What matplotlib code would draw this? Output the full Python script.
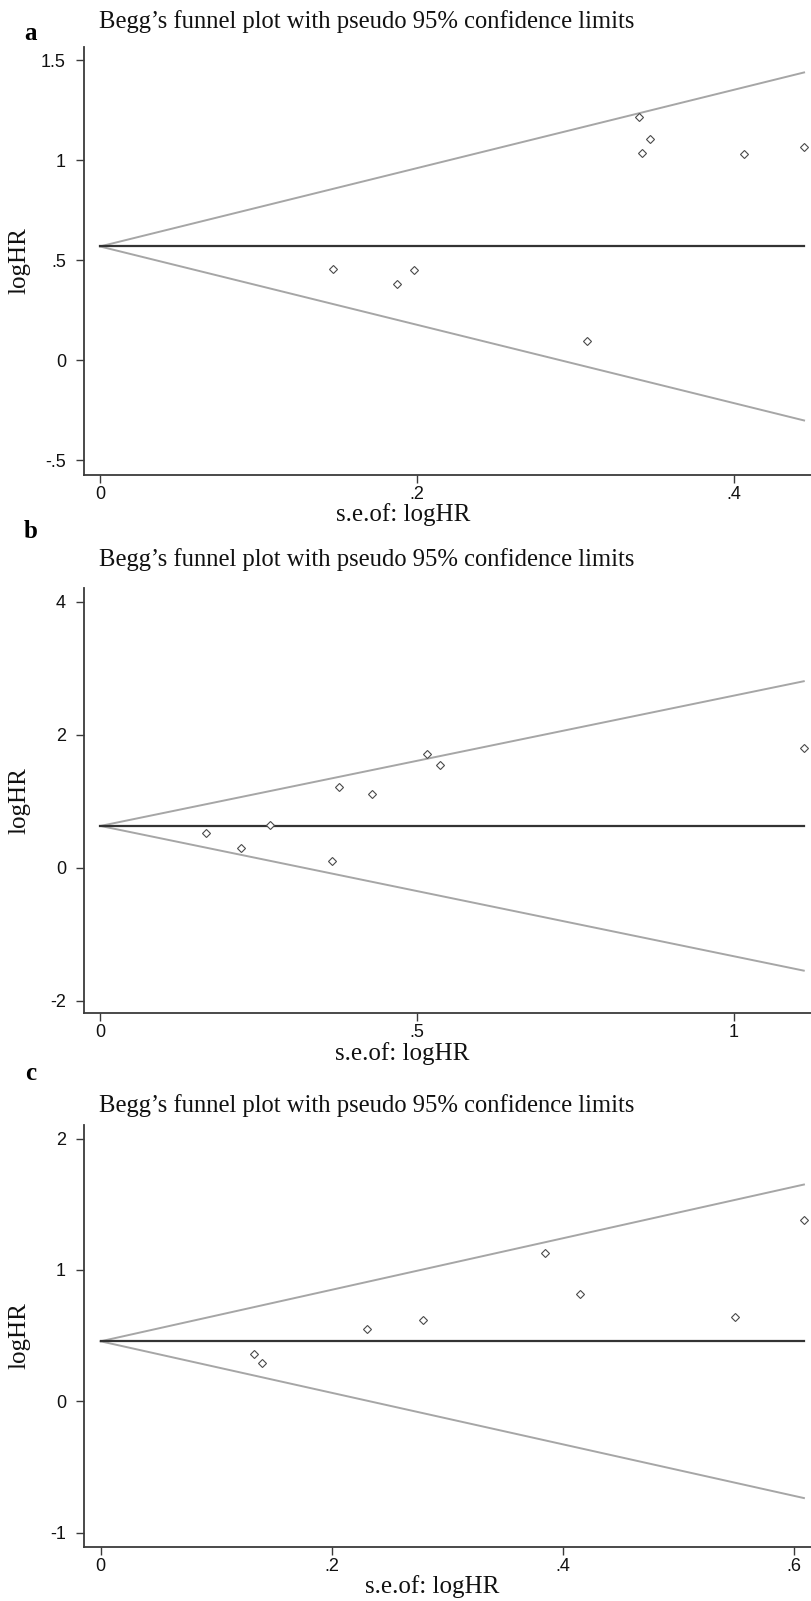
import matplotlib
matplotlib.use("Agg")
import matplotlib.pyplot as plt
import numpy as np
from matplotlib.ticker import FixedLocator, FixedFormatter

# ---------------- data ----------------
a_se = [0.147, 0.187, 0.198, 0.307, 0.340, 0.342, 0.347, 0.406, 0.444]
a_loghr = [0.455, 0.380, 0.450, 0.097, 1.213, 1.033, 1.103, 1.028, 1.067]
a_pooled = 0.568
a_xticks = [0, 0.2, 0.4]
a_xticklabels = ["0", ".2", ".4"]
a_yticks = [-0.5, 0, 0.5, 1, 1.5]
a_yticklabels = ["-.5", "0", ".5", "1", "1.5"]

b_se = [0.166, 0.222, 0.267, 0.365, 0.376, 0.428, 0.516, 0.536, 1.110]
b_loghr = [0.521, 0.296, 0.647, 0.100, 1.208, 1.103, 1.709, 1.544, 1.800]
b_pooled = 0.627
b_xticks = [0, 0.5, 1]
b_xticklabels = ["0", ".5", "1"]
b_yticks = [-2, 0, 2, 4]
b_yticklabels = ["-2", "0", "2", "4"]

c_se = [0.133, 0.140, 0.231, 0.279, 0.385, 0.415, 0.549, 0.609]
c_loghr = [0.358, 0.289, 0.553, 0.617, 1.129, 0.815, 0.645, 1.381]
c_pooled = 0.457
c_xticks = [0, 0.2, 0.4, 0.6]
c_xticklabels = ["0", ".2", ".4", ".6"]
c_yticks = [-1, 0, 1, 2]
c_yticklabels = ["-1", "0", "1", "2"]

panel_letters = ["a", "b", "c"]
title_text = "Begg\u2019s funnel plot with pseudo 95% confidence limits"
xlabel_text = "s.e.of: logHR"
ylabel_text = "logHR"

# ---------------- layout (pixels) ----------------
W, H = 812, 1601
fig = plt.figure(figsize=(W / 100, H / 100), dpi=100)
fig.patch.set_facecolor("white")

def fx(x):
    return x / W

def fy(y):
    return 1 - y / H

panels = [
    dict(se=a_se, y=a_loghr, pooled=a_pooled, xt=a_xticks, xtl=a_xticklabels,
         yt=a_yticks, ytl=a_yticklabels, top=46.7, bottom=475.0,
         xlim=(-0.0101, 0.449), ylim=(-0.575, 1.567),
         title_y=22, letter_y=34, xlabel_x=403),
    dict(se=b_se, y=b_loghr, pooled=b_pooled, xt=b_xticks, xtl=b_xticklabels,
         yt=b_yticks, ytl=b_yticklabels, top=588.3, bottom=1013.3,
         xlim=(-0.026, 1.123), ylim=(-2.19, 4.2),
         title_y=560, letter_y=531, xlabel_x=402),
    dict(se=c_se, y=c_loghr, pooled=c_pooled, xt=c_xticks, xtl=c_xticklabels,
         yt=c_yticks, ytl=c_yticklabels, top=1125.0, bottom=1546.7,
         xlim=(-0.0144, 0.616), ylim=(-1.107, 2.104),
         title_y=1106, letter_y=1074, xlabel_x=432),
]

left_px, right_px = 84, 812
spine_col = "#3a3a3a"
funnel_col = "#a6a6a6"
serif = "Liberation Serif"
sans = "Liberation Sans"

for p, letter in zip(panels, panel_letters):
    ax = fig.add_axes([fx(left_px), fy(p["bottom"]),
                       (right_px - left_px) / W, (p["bottom"] - p["top"]) / H])
    ax.set_facecolor("white")
    se = np.array(p["se"])
    smax = se.max()
    xs = np.array([0.0, smax])
    # funnel limits
    ax.plot(xs, p["pooled"] + 1.96 * xs, color=funnel_col, lw=1.4, zorder=2)
    ax.plot(xs, p["pooled"] - 1.96 * xs, color=funnel_col, lw=1.4, zorder=2)
    ax.plot(xs, [p["pooled"], p["pooled"]], color="#333333", lw=1.6, zorder=3)
    ax.plot(se, p["y"], linestyle="none", marker="D", markersize=4.2,
            markerfacecolor="white", markeredgecolor="#4a4a4a",
            markeredgewidth=0.8, zorder=4, clip_on=False)

    ax.set_xlim(*p["xlim"])
    ax.set_ylim(*p["ylim"])
    ax.xaxis.set_major_locator(FixedLocator(p["xt"]))
    ax.xaxis.set_major_formatter(FixedFormatter(p["xtl"]))
    ax.yaxis.set_major_locator(FixedLocator(p["yt"]))
    ax.yaxis.set_major_formatter(FixedFormatter(p["ytl"]))
    for s in ["top", "right"]:
        ax.spines[s].set_visible(False)
    for s in ["left", "bottom"]:
        ax.spines[s].set_color(spine_col)
        ax.spines[s].set_linewidth(1.3)
    ax.tick_params(axis="both", direction="out", length=6, width=1.0,
                   color=spine_col, labelcolor="#111111", labelsize=13)
    ax.tick_params(axis="x", pad=2)
    ax.tick_params(axis="y", pad=7)
    for lab in ax.get_xticklabels() + ax.get_yticklabels():
        lab.set_fontfamily(sans)

    # title, letter, axis labels
    fig.text(fx(99), fy(p["title_y"]), title_text, fontsize=17.7,
             family=serif, ha="left", va="center", color="#111111")
    fig.text(fx(31), fy(p["letter_y"]), letter, fontsize=18, family=serif,
             fontweight="bold", ha="center", va="center", color="#000000")
    fig.text(fx(p["xlabel_x"]), fy(p["bottom"] + 40), xlabel_text, fontsize=18,
             family=serif, ha="center", va="center", color="#111111")
    fig.text(fx(19), fy((p["top"] + p["bottom"]) / 2), ylabel_text, fontsize=18,
             family=serif, rotation=90, ha="center", va="center", color="#111111")

fig.savefig("out.png", dpi=100, facecolor="white")
